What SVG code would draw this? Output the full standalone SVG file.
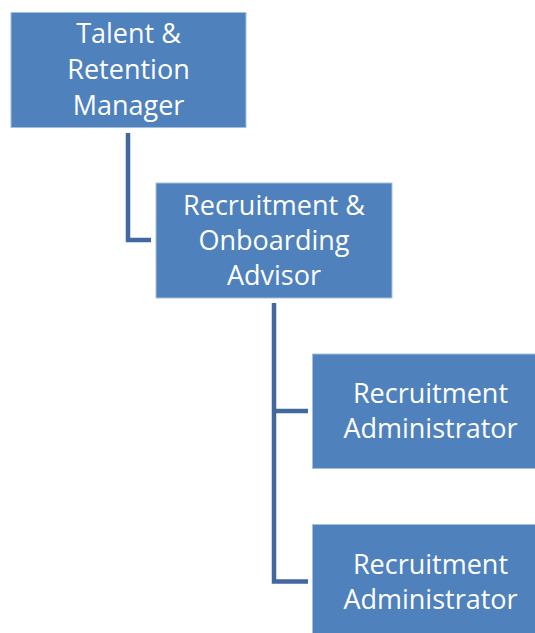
<svg xmlns="http://www.w3.org/2000/svg" width="535" height="633" viewBox="0 0 535 633">
  <style>
    .box { fill: #4F81BD; stroke: #A7BFDE; stroke-width: 1; }
    .lbl { fill: #FFFFFF; font-family: "Open Sans", "Liberation Sans", sans-serif; font-size: 27px; text-anchor: middle; }
    .conn { fill: none; stroke: #41689F; stroke-width: 4.5; stroke-linejoin: miter; stroke-linecap: butt; }
  </style>
  <rect width="535" height="633" fill="#FFFFFF"/>

  <g id="connectors">
    <path class="conn" d="M128,133 V240 H151"/>
    <path class="conn" d="M274,303 V581.5 H308"/>
    <path class="conn" d="M274,411 H308"/>
  </g>

  <g id="talent-retention-manager">
    <rect class="box" x="11" y="12.5" width="235" height="115"/>
    <text class="lbl" x="128.5" y="43">Talent &amp;</text>
    <text class="lbl" x="128.5" y="79">Retention</text>
    <text class="lbl" x="128.5" y="115">Manager</text>
  </g>

  <g id="recruitment-onboarding-advisor">
    <rect class="box" x="156" y="183" width="236" height="115"/>
    <text class="lbl" x="274" y="215">Recruitment &amp;</text>
    <text class="lbl" x="274" y="250">Onboarding</text>
    <text class="lbl" x="274" y="285">Advisor</text>
  </g>

  <g id="recruitment-administrator-1">
    <rect class="box" x="312.5" y="354" width="236" height="114.5"/>
    <text class="lbl" x="430.5" y="403">Recruitment</text>
    <text class="lbl" x="430.5" y="438">Administrator</text>
  </g>

  <g id="recruitment-administrator-2">
    <rect class="box" x="312.5" y="524.5" width="236" height="114.5"/>
    <text class="lbl" x="430.5" y="574">Recruitment</text>
    <text class="lbl" x="430.5" y="609">Administrator</text>
  </g>
</svg>
